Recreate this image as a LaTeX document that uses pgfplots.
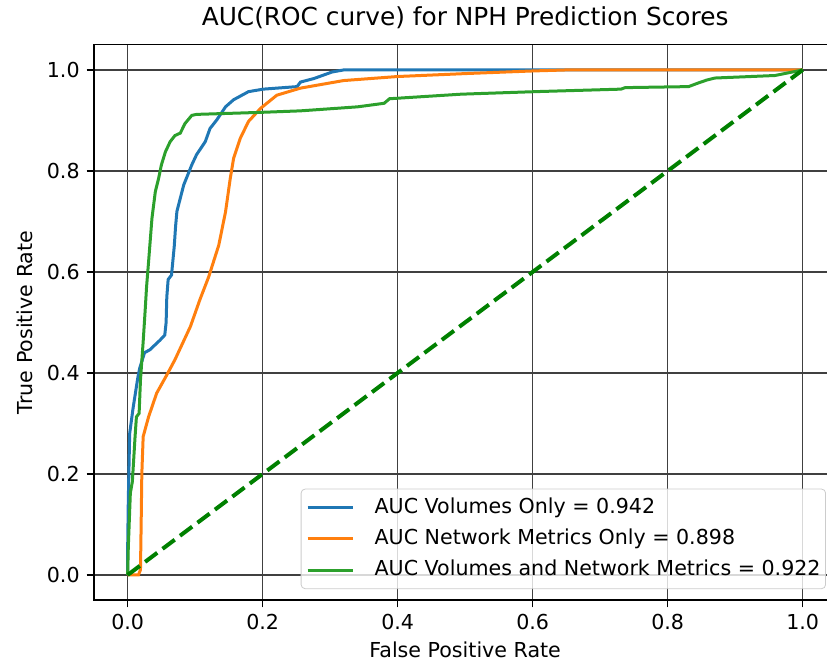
\documentclass[border=0pt]{standalone}
\usepackage{fontspec}
\setmainfont{DejaVu Sans}
\usepackage{pgfplots}
\pgfplotsset{compat=1.18}
\definecolor{tabblue}{HTML}{1F77B4}
\definecolor{taborange}{HTML}{FF7F0E}
\definecolor{tabgreen}{HTML}{2CA02C}
\definecolor{mplgreen}{HTML}{008000}
\begin{document}
\begin{tikzpicture}
\begin{axis}[
  scale only axis, width=371.25pt, height=277.75pt,
  at={(0,0)}, anchor=south west,
  xmin=-0.05, xmax=1.05, ymin=-0.05, ymax=1.05,
  xtick={0,0.2,0.4,0.6,0.8,1.0}, ytick={0,0.2,0.4,0.6,0.8,1.0},
  xticklabels={0.0,0.2,0.4,0.6,0.8,1.0},
  yticklabels={0.0,0.2,0.4,0.6,0.8,1.0},
  xtick pos=lower, ytick pos=left,
  tick align=outside, major tick length=3.6pt,
  every tick/.style={black, line width=0.8pt},
  grid=major, major grid style={black!75, line width=0.8pt},
  axis line style={black, line width=0.8pt},
  ticklabel style={font=\fontsize{10.3}{12}\selectfont},
  title={AUC(ROC curve) for NPH Prediction Scores},
  every axis title/.style={font=\fontsize{12.4}{14}\selectfont, at={(axis description cs:0.5,1.0342)}, anchor=base},
  xlabel={False Positive Rate}, ylabel={True Positive Rate},
  xlabel style={font=\fontsize{10.3}{12}\selectfont, at={(axis description cs:0.5,-0.1026)}, anchor=base},
  ylabel style={font=\fontsize{10.3}{12}\selectfont, at={(axis description cs:-0.0822,0.5)}, anchor=base},
  legend cell align=left,
  legend image code/.code={\draw[#1] (0pt,0pt) -- (22.5pt,0pt); \path[draw=none,fill=none] (0pt,0pt) -- (33.5pt,0pt);},
  legend style={at={(0.986,0.020)}, anchor=south east, draw=black!20, rounded corners=2pt,
    fill=white, fill opacity=0.8, text opacity=1, font=\fontsize{10.3}{12}\selectfont,
    inner xsep=2.5pt, inner ysep=1.5pt, row sep=0pt,
    nodes={inner xsep=0pt, inner ysep=2.7pt, text height=7.8pt, text depth=2.4pt}},
]
\addplot[tabblue, line width=1.5pt] coordinates {
(0,0) (0.000,0.05) (0.001,0.15) (0.003,0.28) (0.008,0.33) (0.015,0.39) (0.018,0.41)
(0.025,0.44) (0.033,0.446) (0.048,0.465) (0.055,0.475) (0.057,0.50) (0.058,0.55)
(0.060,0.585) (0.065,0.594) (0.069,0.65) (0.071,0.69) (0.073,0.72) (0.083,0.772)
(0.095,0.812) (0.102,0.832) (0.115,0.858) (0.122,0.884) (0.132,0.901) (0.145,0.927)
(0.157,0.941) (0.179,0.957) (0.201,0.962) (0.251,0.967) (0.256,0.976) (0.276,0.983)
(0.303,0.996) (0.32,1.0) (1,1)};
\addlegendentry{AUC Volumes Only = 0.942}
\addplot[taborange, line width=1.5pt] coordinates {
(0,0) (0.016,0) (0.019,0.01) (0.020,0.10) (0.021,0.20) (0.023,0.274) (0.031,0.313)
(0.043,0.360) (0.058,0.396) (0.070,0.426) (0.093,0.492) (0.107,0.545) (0.120,0.59)
(0.135,0.653) (0.145,0.719) (0.152,0.785) (0.157,0.825) (0.167,0.865) (0.179,0.898)
(0.197,0.924) (0.221,0.950) (0.256,0.964) (0.320,0.979) (0.40,0.987) (0.504,0.993)
(0.60,0.998) (0.65,1.0) (1,1)};
\addlegendentry{AUC Network Metrics Only = 0.898}
\addplot[tabgreen, line width=1.5pt] coordinates {
(0,0) (0.001,0.056) (0.004,0.162) (0.007,0.185) (0.011,0.274) (0.013,0.313) (0.017,0.320)
(0.019,0.386) (0.023,0.462) (0.026,0.525) (0.028,0.57) (0.031,0.620) (0.036,0.706)
(0.041,0.759) (0.046,0.786) (0.050,0.812) (0.056,0.838) (0.063,0.858) (0.070,0.870)
(0.078,0.875) (0.085,0.894) (0.095,0.910) (0.102,0.912) (0.197,0.916) (0.256,0.919)
(0.320,0.925) (0.341,0.927) (0.380,0.934) (0.388,0.943) (0.494,0.952) (0.603,0.957)
(0.731,0.962) (0.737,0.965) (0.831,0.967) (0.845,0.974) (0.858,0.980) (0.870,0.984)
(0.959,0.989) (0.974,0.993) (1,1)};
\addlegendentry{AUC Volumes and Network Metrics = 0.922\hspace{2.5pt}}
\addplot[mplgreen, line width=2pt, dash pattern=on 7.6pt off 3.3pt, forget plot] coordinates {(0,0) (1,1)};
\end{axis}
\pgfresetboundingbox
\useasboundingbox (-46.95pt,-32.4pt) rectangle (366.55pt,300.1pt);
\end{tikzpicture}
\end{document}
